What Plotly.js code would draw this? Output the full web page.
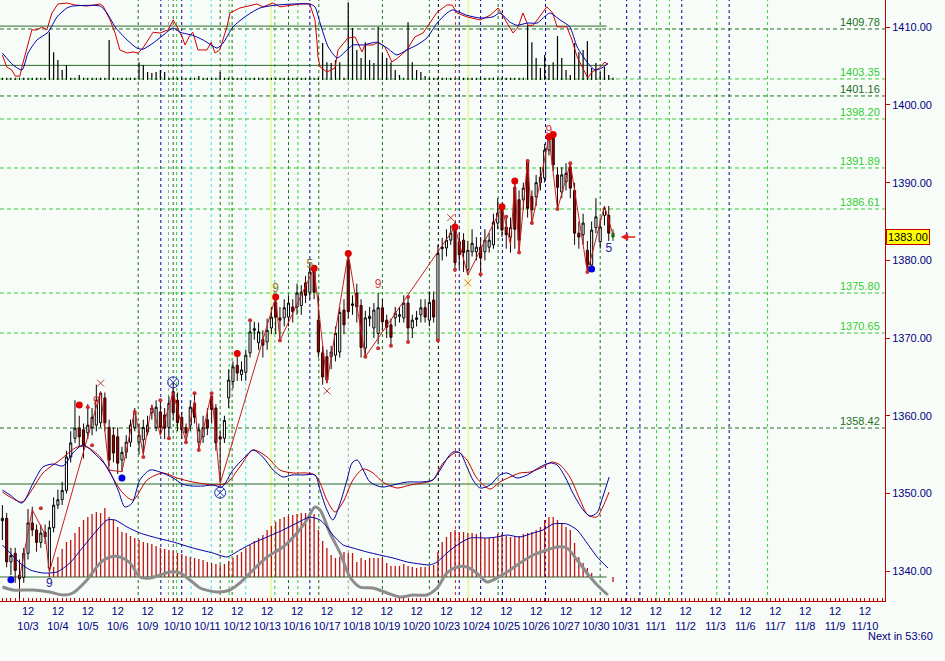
<!DOCTYPE html>
<html><head><meta charset="utf-8">
<script src="https://cdn.plot.ly/plotly-3.0.1.min.js"></script>
<style>html,body{margin:0;padding:0;background:#F8FCF8;}#chart{width:945px;height:661px;}</style>
</head><body><div id="chart"></div>
<script>
// ---------- DATA ----------
const dates = ['10/3','10/4','10/5','10/6','10/9','10/10','10/11','10/12','10/13','10/16','10/17','10/18','10/19','10/20','10/23','10/24','10/25','10/26','10/27','10/30','10/31','11/1','11/2','11/3','11/6','11/7','11/8','11/9','11/10'];
const hourLabel = '12';

const openP = [1346.5,1346.8,1341.2,1342.3,1339.5,1339.2,1342.3,1346.2,1345.3,1343.7,
1345.0,1340.4,1345.6,1348.5,1349.2,1350.4,1354.7,1357.1,1358.4,1358.2,
1357.8,1358.5,1358.8,1359.1,1362.3,1358.5,1357.5,1357.3,1354.3,1355.3,
1356.6,1358.5,1356.6,1356.9,1357.9,1360.4,1358.5,1360.5,1360.1,1358.5,
1363.1,1362.0,1359.8,1358.5,1358.8,1361.6,1356.6,1357.3,1359.5,1362.5,
1361.0,1357.3,1357.1,1362.3,1364.4,1366.5,1365.3,1365.6,1368.1,1371.0,
1369.4,1369.8,1369.5,1371.3,1374.6,1372.6,1372.6,1372.7,1374.0,1374.0,
1374.2,1377.1,1375.9,1379.0,1372.3,1368.1,1367.6,1367.6,1367.8,1368.2,
1373.6,1380.0,1374.2,1375.8,1374.2,1368.7,1372.5,1371.3,1370.6,1373.9,
1372.3,1371.7,1372.6,1372.8,1372.6,1374.5,1371.3,1372.4,1373.0,1373.9,
1372.3,1374.9,1369.7,1381.5,1381.6,1382.6,1384.3,1382.4,1382.6,1378.8,
1381.1,1381.1,1381.7,1381.1,1381.7,1382.0,1384.8,1386.7,1384.3,1383.0,
1389.4,1387.8,1387.8,1392.9,1388.2,1388.2,1390.0,1390.6,1394.2,1395.8,
1391.0,1388.8,1390.1,1392.0,1389.0,1383.5,1383.3,1381.3,1379.4,1384.2,
1382.4,1385.8,1385.8,1383.5];
const highP = [1348.5,1347.5,1343.0,1343.0,1341.5,1343.0,1348.0,1348.3,1346.0,1346.0,
1346.0,1346.5,1349.5,1350.5,1351.5,1355.5,1358.0,1362.0,1360.0,1359.0,
1361.5,1361.0,1364.0,1363.1,1363.0,1359.5,1358.5,1358.5,1356.0,1357.5,
1359.5,1361.0,1359.0,1359.5,1360.0,1361.4,1362.0,1362.0,1361.0,1362.5,
1364.3,1363.0,1360.5,1359.0,1362.0,1362.9,1359.0,1360.0,1361.0,1362.9,
1361.5,1358.0,1360.0,1366.0,1367.0,1368.0,1367.0,1368.5,1372.3,1372.1,
1372.0,1371.0,1372.5,1374.0,1375.3,1374.0,1375.0,1375.5,1375.0,1377.0,
1376.8,1378.0,1379.5,1379.3,1375.5,1369.0,1368.5,1369.0,1371.5,1374.0,
1375.0,1380.6,1375.5,1377.0,1375.0,1373.5,1374.0,1374.5,1375.8,1375.0,
1373.0,1372.5,1374.0,1374.0,1375.5,1375.3,1373.0,1373.5,1375.0,1375.0,
1376.0,1376.0,1382.0,1382.9,1384.0,1384.5,1385.0,1383.5,1383.5,1382.5,
1384.0,1383.0,1383.0,1384.0,1383.5,1386.0,1388.0,1387.0,1385.5,1385.5,
1390.0,1389.0,1390.0,1393.0,1389.0,1391.0,1392.0,1395.0,1396.0,1396.2,
1392.0,1392.0,1392.5,1392.5,1390.0,1385.0,1386.0,1382.5,1385.0,1388.0,
1385.5,1387.0,1387.0,1384.0];
const lowP = [1344.0,1340.5,1339.5,1338.5,1336.5,1338.5,1341.5,1344.5,1342.5,1343.0,
1343.5,1340.0,1345.0,1348.0,1348.5,1350.0,1354.0,1356.5,1356.0,1354.5,
1357.0,1357.5,1358.0,1358.5,1358.0,1353.5,1354.0,1352.5,1352.8,1354.5,
1356.0,1358.0,1355.0,1355.0,1357.5,1359.5,1358.0,1357.5,1357.0,1357.2,
1359.5,1358.0,1357.0,1356.6,1358.0,1359.0,1355.6,1356.5,1357.5,1359.0,
1355.5,1351.5,1356.5,1361.0,1363.5,1364.5,1364.5,1364.5,1367.5,1369.8,
1368.5,1367.5,1368.5,1370.5,1370.5,1369.7,1371.5,1371.5,1372.0,1373.0,
1373.0,1374.5,1375.0,1375.0,1367.5,1364.0,1364.2,1366.0,1367.0,1367.5,
1370.5,1372.5,1373.0,1372.0,1367.5,1367.6,1371.5,1370.0,1369.2,1371.0,
1370.0,1369.0,1371.5,1372.0,1372.0,1369.5,1370.0,1371.5,1372.0,1372.0,
1371.5,1372.0,1369.7,1380.0,1380.5,1382.0,1378.5,1379.0,1378.5,1378.1,
1380.5,1380.0,1378.3,1380.0,1381.0,1381.5,1384.0,1383.0,1381.5,1381.0,
1381.5,1381.0,1386.5,1385.5,1384.7,1387.0,1389.0,1390.0,1393.5,1391.5,
1386.6,1388.0,1389.0,1388.0,1382.0,1381.5,1382.0,1378.5,1378.9,1383.5,
1381.5,1384.5,1382.5,1382.5];
const closeP = [1346.8,1341.2,1342.0,1340.1,1339.0,1342.3,1346.2,1345.3,1343.7,1344.9,
1344.4,1345.6,1348.5,1349.2,1350.4,1354.7,1356.5,1358.4,1357.3,1356.2,
1358.8,1359.8,1362.0,1362.9,1359.1,1354.3,1355.2,1353.9,1355.3,1356.6,
1358.8,1360.4,1357.5,1358.5,1358.8,1361.0,1361.1,1358.5,1358.4,1361.6,
1360.4,1359.1,1358.2,1357.8,1361.1,1359.8,1358.2,1358.5,1358.4,1360.8,
1356.5,1357.0,1359.4,1364.6,1366.3,1365.5,1365.9,1367.8,1370.8,1371.2,
1370.8,1369.1,1371.0,1372.7,1372.7,1372.3,1373.9,1374.5,1373.4,1375.8,
1375.9,1375.5,1378.5,1375.9,1368.2,1365.0,1364.6,1368.2,1370.6,1373.3,
1371.7,1373.4,1374.4,1374.0,1368.8,1372.6,1372.8,1373.6,1373.9,1372.1,
1371.4,1370.1,1373.2,1373.0,1374.5,1371.3,1372.3,1372.6,1373.9,1372.7,
1374.6,1372.7,1380.9,1381.7,1382.6,1383.5,1379.7,1380.7,1381.0,1381.3,
1382.2,1381.7,1380.3,1382.6,1382.6,1384.9,1386.1,1383.9,1383.3,1384.2,
1384.0,1382.6,1389.3,1386.7,1386.5,1390.0,1390.7,1394.2,1395.7,1392.3,
1389.4,1391.0,1391.2,1389.3,1383.5,1383.0,1384.8,1379.4,1383.9,1385.6,
1384.3,1386.7,1383.5,1383.0];

// zigzag pivots (bar index, price)
const zigBar   = [4,7,10,11,23,25,28,31,33,35,37,40,43,45,46,49,51,64,65,73,76,81,85,106,109,117,119,120,121,123,124,128,130,133,137,141,143];
const zigPrice = [1339.1,1347.9,1344.7,1339.9,1363.1,1353.0,1352.8,1360.7,1355.0,1361.4,1357.5,1363.0,1356.6,1362.0,1355.6,1363.0,1351.3,1375.3,1369.7,1379.0,1364.2,1380.9,1367.6,1384.3,1378.1,1386.9,1382.0,1390.2,1381.0,1392.9,1384.7,1395.9,1386.6,1392.5,1378.5,1387.0,1383.3];

const redDotBar = [18,55,64,73,81,106,117,120,128,129];
const redDotPrice = [1361.4,1368.0,1375.3,1379.0,1380.9,1384.3,1386.9,1390.2,1395.9,1396.2];
const blueDotBar = [2,28,138];
const blueDotPrice = [1338.9,1352.0,1378.9];
const smallDotBar = [9,20,21,31,33,37,39,43,45,46,49,58,65,85,88,91,95,95,102,106,112,118,121,123,124,130,133,137];
const smallDotPrice = [1348.1,1361.1,1356.2,1360.5,1354.7,1362.0,1357.1,1356.6,1362.9,1355.6,1362.9,1372.3,1369.7,1367.6,1368.7,1369.0,1375.3,1369.5,1369.7,1378.8,1378.2,1385.6,1381.0,1392.8,1384.8,1386.6,1392.5,1378.5];
const crossBar = [23,76,105];
const crossPrice = [1364.2,1363.2,1385.5];
const orangeCrossBar = [109];
const orangeCrossPrice = [1377.1];
const ringBar = [40,51];
const ringPrice = [1364.3,1350.1];
const countRedBar = [22,88,128];
const countRedPrice = [1361.8,1376.8,1396.6];
const countRedText = ['9','9','9'];
const countOliveBar = [64,72];
const countOlivePrice = [1376.3,1379.4];
const countOliveText = ['9','5'];
const countBlueBar = [11,142];
const countBluePrice = [1338.3,1381.5];
const countBlueText = ['9','5'];
const lastPrice = 1383.00;

// horizontal levels
const levelPrices = [1409.78,1403.35,1401.16,1398.20,1391.89,1386.61,1375.80,1370.65,1358.42];
const levelDark   = [true,false,true,false,false,false,false,false,true];

// vertical time markers (bar index) and kinds
const vBars  = [31.8,37.1,38.9,40.0,40.8,42.0,44.2,48.9,51.0,53.1,53.8,57.0,62.9,63.8,67.0,69.2,72.0,74.1,81.0,89.0,100.0,102.1,106.1,107.0,109.1,112.0,116.1,117.1,127.2,140.0,146.2,149.3,153.2,156.2,159.1,167.3,170.2,179.2];
const vKinds = ['dg','db','gr','dg','g','db','c','c','dg','g','dg','c','y','g','dg','g','db','dg','gr','dg','dg','k','r','db','y','db','dg','db','db','dg','db','db','g','g','db','g','db','g'];

// top oscillator (fast red / slow blue), 0-100 scale
const stRedBar = [0,1,2.2,3,4.1,4.8,6.9,8.1,9.3,10.4,11.6,13,15.1,17,19.8,22.9,23.6,25.2,26.4,27.5,29.2,30.6,31.8,32.9,35.3,36.9,38.8,40,40.9,42.1,42.8,43.9,44.6,45.8,47.9,48.9,49.8,50.9,52.6,53.3,55.6,59.6,61,63.4,65,67.4,69.7,72,73.2,73.7,73.9,74.4,76,77.9,78.6,80.9,82.6,84.2,84.9,86.8,88,89.6,91.2,92.6,94.7,96.6,98.5,100.1,101.8,104.1,105.3,106.5,108.8,111.9,114.2,116.1,118.2,119.6,120.8,121.9,123.1,124.3,127.5,128.9,129.9,132.2,133.4,134.6,137.1,138.1,139.9,141.1,141.8];
const stRedVal = [32.5,17,13,5,5,22,65,65,69,65,87,98.7,100,97.4,96,98.7,96,78,61,39,35,36.4,35,41.5,62,61,65,78,69,56,45.5,58,62,39,39,49,35,39,69,87,93.5,98.7,95,100,95,97.4,98.7,98.7,78,48,30,17,10.4,15.6,39,54.5,56,36.4,45.5,45.5,49,43,23.4,28.6,39,56,61,74,88,97.4,97.4,87,82,78,84,93.5,74,61,69,87,71,71,95,87,69,69,52,30,2.6,10.4,15.6,23.4,19.5];
const stBlueBar = [0,2.5,4.6,6,8.1,10.7,12.8,15.1,16.5,22.9,24.5,26.4,29.2,31.5,32.9,35.3,37.6,40,41.6,44.6,47,50.3,51.7,54,57.3,60.3,64.3,72,73.2,74.4,76.3,78.4,80.7,82.1,84.5,87.7,90.1,92.4,94.7,97.1,99.4,101.8,104.1,105.5,108.8,111.9,114.9,116.5,118.9,120.5,122.9,125.2,128.2,130.6,132.9,134.6,137.1,138.8,140.4,141.8];
const stBlueVal = [35,19.5,13,35,52,62,82,93.5,96,96,87,69,52,41.5,40,48,58,67.5,62,58,52,41.5,48,69,84,93.5,97.4,98.7,95,74,43,28.6,39,45.5,45.5,49,41.5,32.5,39,45.5,54.5,74,87,91,84,80.5,82,87,75,71,74,74,87,78,69,43,22,13,15.6,22];
const stLevels = [70,19];
const volTop = [3,3,3,3,3,3,3,3,3,3,3,
62,36,26,13,19.5,3,3,6.5,3,3,3,3,3,3,52,3,3,3,3,3,3,
23,19.5,10.4,9,10.4,13,10.4,3,3,3,3,3,3,3,5.2,3,3,3,3,10.4,
3,3,3,3,3,3,3,3,3,3,3,3,3,3,3,3,3,3,3,3,3,3,3,
48,23,22,26,23,3,101,67.5,39,28.6,49,26,22,69,35,28.6,23,13,6.5,3,75,23,13,10.4,5.2,
3,3,3,3,3,3,3,3,3,3,3,3,3,3,3,3,3,3,3,3,3,3,3,
71,49,28.6,15.6,32.5,19.5,23,57,28.6,13,6.5,48,36,39,50.6,15.6,22,10.4,17,6.5,3];

// lower oscillator (blue / red) around zero
const oscBlueBar = [0,1.8,4.6,7.2,9.5,11.9,14.2,16.5,18.9,21.2,24.5,27.1,28.7,30.4,32.2,34.6,36.9,40,42.1,44.4,47,49.3,51.4,54,56.8,58.7,61,63.4,65.7,67.8,70.4,73.2,74.4,76,77.4,79.1,80.7,81.9,83.1,84.5,86.1,88.9,91.5,94.8,97.8,100.8,102.5,104.4,105.5,107.2,108.8,110.2,111.9,114.2,116.5,118.2,120.5,122.9,125.9,128.2,129.9,131.8,133.6,136,137.6,139.2,140.6,142.1];
const oscBlueVal = [-0.6,-1.1,-1.9,0.1,1.7,2.0,1.8,3.1,3.9,3.2,1.7,-0.6,-2.3,-1.9,0.4,1.4,1.2,0.6,0.0,-0.2,-0.2,-0.1,-0.3,1.4,2.7,3.4,2.7,1.4,0.7,0.9,0.9,0.9,-0.6,-2.6,-3.6,-1.9,0.4,2.1,2.4,1.4,0.2,-0.3,-0.1,0.2,0.2,0.4,1.4,2.7,3.2,3.1,1.7,0.4,-0.4,-0.1,0.9,1.1,0.6,0.9,1.7,2.1,1.9,0.7,-0.9,-2.6,-3.2,-2.9,-1.3,0.7];
const oscRedBar = [0,1.8,4.6,7.2,9.5,13.5,17.5,19.8,22.9,25.2,28.2,30.6,33.9,37.6,40.9,44.6,50.3,52.6,55.6,58.7,62,65,68.1,71.3,73.2,74.4,76,77.9,79.8,82.1,84.5,86.8,89.1,92.4,95.5,98.5,100.8,103.2,106.5,108.8,111.1,114.2,116.5,118.9,121.2,123.6,126.6,128.7,130.6,132.9,135.3,137.1,139.2,140.6,142.1];
const oscRedVal = [-0.8,-1.3,-1.8,-0.4,1.1,2.4,3.7,3.7,2.7,1.1,-0.9,-1.6,0.4,1.1,0.6,0.2,-0.1,0.1,1.7,3.4,2.7,1.4,1.1,1.1,0.9,0.1,-1.6,-2.8,-1.8,0.4,1.5,1.1,0.2,-0.4,-0.1,0.1,0.4,2.1,3.2,2.4,0.6,-0.5,0.2,0.7,1.1,1.2,1.7,2.2,1.9,0.7,-1.6,-3.1,-3.3,-2.3,-0.8];

// lower histogram + signal lines
const histLow = [0,0,0,0,0,0,0,0,0,0,0,
0.4,1.0,2.0,2.8,3.5,3.7,4.4,5.0,5.7,6.0,6.3,6.5,6.4,6.9,
6.0,5.7,5.0,4.5,4.4,4.1,3.9,3.7,3.5,
3.4,3.3,3.1,2.9,2.8,2.7,2.6,2.4,2.3,2.1,2.0,1.9,1.8,1.7,1.5,1.4,1.3,1.2,1.3,
1.6,1.9,2.2,2.5,2.9,3.2,3.6,3.9,4.2,4.7,5.1,5.5,5.8,6.0,6.1,6.2,6.3,6.4,6.4,6.5,6.3,
4.7,3.6,2.9,2.2,1.9,2.0,2.5,2.4,2.4,1.5,1.9,1.7,1.9,1.9,1.9,1.9,1.4,1.1,1.1,1.1,1.3,1.1,1.0,0.9,1.0,1.0,1.1,1.2,
2.5,3.5,4.0,4.5,4.7,4.5,4.5,4.4,4.4,4.3,4.2,3.9,3.9,3.9,4.3,4.3,4.1,4.0,4.0,4.1,4.3,4.4,4.5,4.7,5.0,5.7,6.0,6.0,5.7,5.4,5.0,4.7,3.4,2.0,1.4,0.9,0.4,0,0,0,0,-0.5];
const sigBlueBar = [0,1.8,4.1,6.5,9.5,12.8,15.8,18.9,22.2,24.5,26.4,29.2,32.2,36.2,40,44.6,49.3,52.6,55.6,58.7,62,65.7,69,72,74.4,76,77.4,79.8,82.1,85.4,88.4,91.5,94.8,97.8,100.1,101.8,104.1,106.5,109.5,113.5,115.8,118.2,121.2,124.3,126.6,129,132.2,134.6,136.9,139.3,141.8];
const sigBlueVal = [3.2,2.4,1.4,0.7,0.4,0.5,1.4,3.0,4.7,5.7,5.7,5.0,4.4,3.9,3.5,2.9,2.4,2.0,2.7,3.4,4.0,4.7,5.4,6.0,5.7,5.0,4.2,3.2,2.9,2.5,2.2,1.9,1.5,1.3,1.2,1.5,2.4,3.2,3.9,3.9,4.0,4.2,4.0,4.4,4.7,5.3,5.3,4.7,3.4,2.0,0.9];
const sigGrayBar = [0,2.5,7.2,11.1,14.2,16.5,19.8,22.9,25.2,27.5,29.9,32.2,34.6,36.9,39.3,41.6,43.9,46.3,50.3,53.3,55.6,58.7,62,65.7,69,71.3,73.2,74.4,76.7,79.1,81.4,83.7,86.8,90.1,93.1,96.2,99.4,101.8,104.1,106.5,108.8,111.1,113.5,115.8,118.2,121.2,124.3,127.5,129.9,132.2,134.6,136.9,139.3,141.8];
const sigGrayVal = [-1.0,-1.3,-1.3,-1.5,-1.8,-1.6,-0.3,1.4,2.0,2.0,1.4,0.0,-0.1,0.2,0.5,0.4,-0.3,-1.1,-1.5,-1.3,-0.6,0.7,2.0,3.0,4.4,5.7,7.0,6.7,4.4,2.4,0.0,-1.0,-1.1,-1.6,-2.0,-1.8,-1.8,-1.1,0.4,1.0,1.0,0.4,-0.5,-0.1,0.5,1.4,2.2,2.7,3.0,2.9,1.7,0.4,-0.8,-1.8];

// ---------- CHART ----------
const FONT = 'Liberation Sans, Arial, sans-serif';
const NAVY = '#000080';
const RED = '#C00000';
const DKGREEN = '#1E6E1E';
const LTGREEN = '#33CC33';
const barsPerDay = 7, noonOffset = 6;
const barIdx = closeP.map((_, i) => i);
const lastBar = barIdx.length - 1;
const tickVals = dates.map((_, i) => noonOffset + barsPerDay * i);
const tickText = dates.map(d => hourLabel + '<br>' + d);

const traces = [];
traces.push({type:'bar', x: barIdx, y: volTop, yaxis:'y2', width:0.28, marker:{color:'#000000', line:{width:0}}, hoverinfo:'skip'});
traces.push({type:'bar', x: barIdx, y: histLow, yaxis:'y4', width:0.3, marker:{color:'#C01010', line:{width:0}}, hoverinfo:'skip'});
traces.push({type:'scatter', mode:'lines', x: stRedBar, y: stRedVal, yaxis:'y2', line:{color:'#D00000', width:1}});
traces.push({type:'scatter', mode:'lines', x: stBlueBar, y: stBlueVal, yaxis:'y2', line:{color:'#0000B0', width:1, shape:'spline', smoothing:0.6}});
traces.push({type:'scatter', mode:'lines', x: oscRedBar, y: oscRedVal, yaxis:'y3', line:{color:'#C00000', width:1, shape:'spline', smoothing:0.8}});
traces.push({type:'scatter', mode:'lines', x: oscBlueBar, y: oscBlueVal, yaxis:'y3', line:{color:'#0000A0', width:1, shape:'spline', smoothing:0.8}});
traces.push({type:'scatter', mode:'lines', x: sigGrayBar, y: sigGrayVal, yaxis:'y4', line:{color:'#8C8C8C', width:3, shape:'spline', smoothing:0.8}});
traces.push({type:'scatter', mode:'lines', x: sigBlueBar, y: sigBlueVal, yaxis:'y4', line:{color:'#0000A0', width:1, shape:'spline', smoothing:0.6}});
traces.push({type:'scatter', mode:'lines', x: zigBar, y: zigPrice, line:{color:'#C81E1E', width:1}});
traces.push({type:'candlestick', x: barIdx.slice(0, lastBar), open: openP.slice(0, lastBar), high: highP.slice(0, lastBar), low: lowP.slice(0, lastBar), close: closeP.slice(0, lastBar),
  increasing:{line:{color:'#000000', width:1}, fillcolor:'#FFFFFF'},
  decreasing:{line:{color:'#2A0000', width:1}, fillcolor:'#A00000'}, whiskerwidth:0, hoverinfo:'skip'});
traces.push({type:'candlestick', x: barIdx.slice(lastBar), open: openP.slice(lastBar), high: highP.slice(lastBar), low: lowP.slice(lastBar), close: closeP.slice(lastBar),
  increasing:{line:{color:'#006000', width:1}, fillcolor:'#20A020'},
  decreasing:{line:{color:'#006000', width:1}, fillcolor:'#20A020'}, whiskerwidth:0, hoverinfo:'skip'});
traces.push({type:'scatter', mode:'markers', x: smallDotBar, y: smallDotPrice, marker:{color:'#C83030', size:4}});
traces.push({type:'scatter', mode:'markers', x: redDotBar, y: redDotPrice, marker:{color:'#E00000', size:7}});
traces.push({type:'scatter', mode:'markers', x: blueDotBar, y: blueDotPrice, marker:{color:'#0000E0', size:7}});
traces.push({type:'scatter', mode:'markers', x: crossBar, y: crossPrice, marker:{symbol:'x-thin', size:7, line:{color:'#C04040', width:1}}});
traces.push({type:'scatter', mode:'markers', x: orangeCrossBar, y: orangeCrossPrice, marker:{symbol:'x-thin', size:7, line:{color:'#E08020', width:1}}});
traces.push({type:'scatter', mode:'markers', x: ringBar, y: ringPrice, marker:{symbol:'circle-x-open', size:11, color:'#2030C0', line:{width:1}}});
traces.push({type:'scatter', mode:'text', x: countRedBar, y: countRedPrice, text: countRedText, textfont:{family:FONT, size:12, color:'#D04040'}});
traces.push({type:'scatter', mode:'text', x: countOliveBar, y: countOlivePrice, text: countOliveText, textfont:{family:FONT, size:12, color:'#8A7A20'}});
traces.push({type:'scatter', mode:'text', x: countBlueBar, y: countBluePrice, text: countBlueText, textfont:{family:FONT, size:12, color:'#2020A0'}});

const shapes = [];
const vColors = {dg:'#1E6E1E', g:'#33CC33', db:'#000099', c:'#40E0E0', gr:'#A0A0A0', k:'#000000', r:'#C03030', y:'#EEF4A8'};
vBars.forEach((b, i) => {
  const kind = vKinds[i];
  shapes.push({type:'line', xref:'x', yref:'paper', x0:b, x1:b, y0:0, y1:1, layer:'below',
    line:{color:vColors[kind], width: kind === 'y' ? 2 : 1, dash: kind === 'y' ? 'solid' : '3px,3px'}});
});
levelPrices.forEach((p, i) => {
  shapes.push({type:'line', xref:'paper', yref:'y', x0:0, x1:1, y0:p, y1:p, layer:'below',
    line:{color: levelDark[i] ? DKGREEN : LTGREEN, width:1, dash:'4px,3px'}});
});
const solidEnd = 141.5;
stLevels.forEach(v => shapes.push({type:'line', xref:'x', yref:'y2', x0:-1, x1:solidEnd, y0:v, y1:v, layer:'below', line:{color:'#2A6A2A', width:1}}));
shapes.push({type:'line', xref:'x', yref:'y3', x0:-1, x1:solidEnd, y0:0, y1:0, layer:'below', line:{color:'#2A6A2A', width:1}});
shapes.push({type:'line', xref:'x', yref:'y4', x0:-1, x1:solidEnd, y0:0, y1:0, layer:'below', line:{color:'#2A6A2A', width:1}});

const annotations = [];
levelPrices.forEach((p, i) => {
  annotations.push({xref:'paper', yref:'y', x:0.9966, y:p, xanchor:'right', yanchor:'bottom', showarrow:false,
    text: p.toFixed(2), font:{family:FONT, size:11, color: levelDark[i] ? DKGREEN : LTGREEN}, yshift:-1});
});
annotations.push({xref:'paper', yref:'y', x:1, y:lastPrice, xanchor:'left', yanchor:'middle', xshift:1, showarrow:false,
  text: lastPrice.toFixed(2), bgcolor:'#FFFF00', bordercolor:'#C00000', borderwidth:1, borderpad:1, font:{family:FONT, size:11, color:'#000000'}});
annotations.push({xref:'x', yref:'y', x:lastBar + 1.8, y:lastPrice, ax:16, ay:0, showarrow:true, arrowhead:2, arrowsize:1, arrowwidth:1.5, arrowcolor:'#E02020', text:''});
annotations.push({xref:'paper', yref:'paper', x:1.0565, y:-0.058, xanchor:'right', yanchor:'middle', showarrow:false,
  text:'Next in 53:60', font:{family:FONT, size:11, color:NAVY}});

const priceTop = 1413.51, priceBottom = 1336.16;
const layout = {
  width:945, height:661, margin:{l:0, r:60, t:0, b:60},
  paper_bgcolor:'#F8FCF8', plot_bgcolor:'#F8FCF8',
  showlegend:false, barmode:'overlay', boxgap:0.3,
  font:{family:FONT, size:11, color:NAVY},
  xaxis:{range:[-0.56, 206.7], tickmode:'array', tickvals:tickVals, ticktext:tickText, ticks:'',
    tickfont:{family:FONT, size:11, color:NAVY}, showgrid:false, zeroline:false,
    showline:true, linecolor:RED, linewidth:1, rangeslider:{visible:false},
    minor:{ticks:'inside', ticklen:3, tickcolor:RED, tickwidth:1, dtick:1, tick0:0, showgrid:false}},
  yaxis:{side:'right', range:[priceBottom, priceTop], tickmode:'linear', tick0:1340, dtick:10, tickformat:'.2f',
    ticks:'outside', ticklen:4, tickcolor:RED, showline:true, linecolor:RED, linewidth:1,
    showgrid:false, zeroline:false, tickfont:{family:FONT, size:11, color:NAVY}},
  yaxis2:{overlaying:'y', anchor:'x', range:[-676.6, 103.9], visible:false},
  yaxis3:{overlaying:'y', anchor:'x', range:[-11.7, 48.4], visible:false},
  yaxis4:{overlaying:'y', anchor:'x', range:[-2.4, 57.7], visible:false},
  shapes: shapes, annotations: annotations
};
Plotly.newPlot('chart', traces, layout, {staticPlot:true, displayModeBar:false});
</script></body></html>
